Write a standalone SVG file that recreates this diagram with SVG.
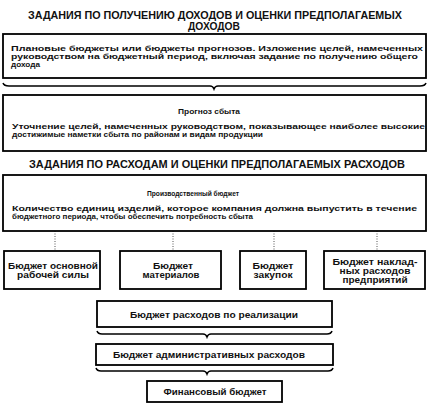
<svg xmlns="http://www.w3.org/2000/svg" width="438" height="406" viewBox="0 0 438 406">
<style>
.box{fill:#fff;stroke:#000;stroke-width:1.8}
.t{font-family:"Liberation Sans",Arial,sans-serif;font-weight:bold;fill:#111}
.h{font-size:10px}
.b{font-size:8px}
.n{font-size:8px}
.s{font-size:8.5px}
.c{text-anchor:middle}
.dot{stroke:#555;stroke-width:1;stroke-dasharray:1 1.5;fill:none}
.br{stroke:#000;stroke-width:1.5;fill:none}
</style>
<rect width="438" height="406" fill="#fff"/>
<g id="heading1">
<text class="t h" x="28" y="19" textLength="374" lengthAdjust="spacingAndGlyphs">ЗАДАНИЯ ПО ПОЛУЧЕНИЮ ДОХОДОВ  И ОЦЕНКИ ПРЕДПОЛАГАЕМЫХ</text>
<text class="t h c" x="214" y="30" textLength="52" lengthAdjust="spacingAndGlyphs">ДОХОДОВ</text>
</g>
<g id="connectors">
<path class="br" d="M3,83 Q4,86 9,86 L210,86 Q213,86 214,89 Q215,86 218,86 L420,86 Q425,86 426,83"/>
<path class="br" d="M97,331 Q98,334 102,334 L203,334 Q206,334 207,337 Q208,334 211,334 L327,334 Q331,334 332,331"/>
<path class="br" d="M96,368 Q97,371 101,371 L203,371 Q206,371 207,374 Q208,371 211,371 L328,371 Q332,371 333,368"/>
<line class="dot" x1="55" y1="231" x2="55" y2="250"/>
<line class="dot" x1="173" y1="231" x2="173" y2="250"/>
<line class="dot" x1="274" y1="231" x2="274" y2="250"/>
<line class="dot" x1="377" y1="231" x2="377" y2="250"/>
</g>
<g id="box1">
<rect class="box" x="3" y="34" width="423" height="44"/>
<text class="t b" x="11" y="50.5" textLength="412" lengthAdjust="spacingAndGlyphs">Плановые бюджеты  или  бюджеты прогнозов.  Изложение  целей,  намеченных</text>
<text class="t b" x="11" y="58.5" textLength="407" lengthAdjust="spacingAndGlyphs">руководством  на бюджетный период,  включая задание  по получению  общего</text>
<text class="t b" x="11" y="66.5" textLength="29" lengthAdjust="spacingAndGlyphs">дохода</text>
</g>
<g id="box2">
<rect class="box" x="3" y="95" width="423" height="56"/>
<text class="t n c" x="209" y="113.5" textLength="62" lengthAdjust="spacingAndGlyphs">Прогноз сбыта</text>
<text class="t b" x="12" y="128.5" textLength="413" lengthAdjust="spacingAndGlyphs">Уточнение целей, намеченных руководством, показывающее  наиболее  высокие</text>
<text class="t b" x="12" y="136.5" textLength="251" lengthAdjust="spacingAndGlyphs">достижимые наметки сбыта по районам и видам продукции</text>
</g>
<g id="heading2">
<text class="t h" x="29" y="168" textLength="376" lengthAdjust="spacingAndGlyphs">ЗАДАНИЯ ПО РАСХОДАМ И ОЦЕНКИ ПРЕДПОЛАГАЕМЫХ РАСХОДОВ</text>
</g>
<g id="box3">
<rect class="box" x="3" y="175" width="423" height="56"/>
<text class="t n c" x="193" y="196" textLength="92" lengthAdjust="spacingAndGlyphs">Производственный бюджет</text>
<text class="t b" x="12" y="210.5" textLength="405" lengthAdjust="spacingAndGlyphs">Количество  единиц  изделий,  которое  компания  должна  выпустить  в  течение</text>
<text class="t b" x="12" y="218.5" textLength="241" lengthAdjust="spacingAndGlyphs">бюджетного периода, чтобы обеспечить потребность сбыта</text>
</g>
<g id="boxA">
<rect class="box" x="4" y="251" width="96" height="38"/>
<text class="t s c" x="53" y="268.5" textLength="90" lengthAdjust="spacingAndGlyphs">Бюджет основной</text>
<text class="t s c" x="53" y="278" textLength="72" lengthAdjust="spacingAndGlyphs">рабочей  силы</text>
</g>
<g id="boxB">
<rect class="box" x="120" y="251" width="101" height="38"/>
<text class="t s c" x="173" y="268.5" textLength="40" lengthAdjust="spacingAndGlyphs">Бюджет</text>
<text class="t s c" x="171" y="278" textLength="57" lengthAdjust="spacingAndGlyphs">материалов</text>
</g>
<g id="boxC">
<rect class="box" x="240" y="251" width="66" height="38"/>
<text class="t s c" x="273" y="268.5" textLength="41" lengthAdjust="spacingAndGlyphs">Бюджет</text>
<text class="t s c" x="273" y="278" textLength="39" lengthAdjust="spacingAndGlyphs">закупок</text>
</g>
<g id="boxD">
<rect class="box" x="324" y="251" width="101" height="38"/>
<text class="t s c" x="375" y="265" textLength="85" lengthAdjust="spacingAndGlyphs">Бюджет  наклад-</text>
<text class="t s c" x="375" y="274" textLength="71" lengthAdjust="spacingAndGlyphs">ных расходов</text>
<text class="t s c" x="375" y="283" textLength="65" lengthAdjust="spacingAndGlyphs">предприятий</text>
</g>
<g id="box5">
<rect class="box" x="97" y="301" width="235" height="26"/>
<text class="t s c" x="214" y="317.5" textLength="168" lengthAdjust="spacingAndGlyphs">Бюджет расходов по реализации</text>
</g>
<g id="box6">
<rect class="box" x="96" y="344" width="237" height="21"/>
<text class="t s c" x="209" y="357.5" textLength="192" lengthAdjust="spacingAndGlyphs">Бюджет административных расходов</text>
</g>
<g id="box7">
<rect class="box" x="147" y="381" width="135" height="21"/>
<text class="t s c" x="215" y="394.5" textLength="103" lengthAdjust="spacingAndGlyphs">Финансовый бюджет</text>
</g>
</svg>
